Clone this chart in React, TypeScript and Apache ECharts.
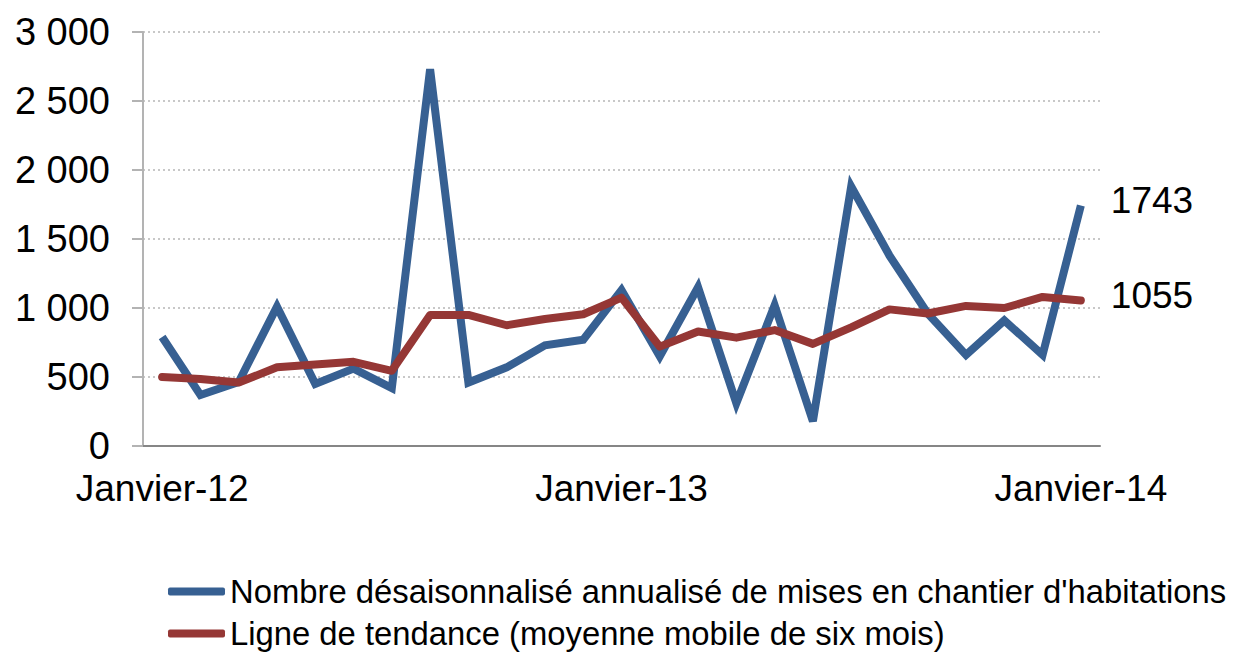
import React, { useEffect, useRef } from "react";
import * as echarts from "echarts";

const months = ["Janvier", "Février", "Mars", "Avril", "Mai", "Juin", "Juillet", "Août", "Septembre", "Octobre", "Novembre", "Décembre"];
const categories: string[] = [
  ...months.map((m) => `${m}-12`),
  ...months.map((m) => `${m}-13`),
  "Janvier-14",
];

const startsValues = [790, 370, 464, 1010, 450, 561, 420, 2730, 460, 570, 730, 770, 1130, 650, 1150, 310, 1020, 180, 1880, 1380, 960, 660, 910, 660, 1743];
const trendValues = [500, 485, 460, 570, 590, 610, 545, 950, 950, 875, 920, 955, 1075, 720, 830, 785, 840, 740, 860, 990, 960, 1015, 1000, 1080, 1055];

const seriesNames = [
  "Nombre désaisonnalisé annualisé de mises en chantier d'habitations",
  "Ligne de tendance (moyenne mobile de six mois)",
];
const seriesColors = ["#376092", "#953735"];

const FONT = "'Liberation Sans', Arial, sans-serif";

export default function App() {
  const ref = useRef<HTMLDivElement>(null);
  useEffect(() => {
    if (!ref.current) return;
    const chart = echarts.init(ref.current, undefined, { renderer: "svg" });
    const legendTops = [570, 612];
    const endLabel = {
      show: true,
      distance: 30,
      offset: [0, -5],
      fontSize: 37,
      color: "#000",
      fontFamily: FONT,
      formatter: (p: any) => String(p.value),
    };
    chart.setOption({
      animation: false,
      backgroundColor: "#fff",
      textStyle: { fontFamily: FONT },
      grid: { left: 143, right: 134, top: 32, bottom: 206 },
      legend: seriesNames.map((name, i) => ({
        orient: "vertical",
        left: 163,
        top: legendTops[i],
        itemWidth: 57,
        itemHeight: 8,
        itemGap: 5,
        icon: "roundRect",
        textStyle: { fontSize: 32.8, color: "#000", fontFamily: FONT },
        data: [name],
      })),
      xAxis: {
        type: "category",
        data: categories,
        boundaryGap: true,
        axisLine: { lineStyle: { color: "#868686", width: 2 } },
        axisTick: { show: false },
        axisLabel: { interval: 11, fontSize: 37, color: "#000", margin: 24, fontFamily: FONT },
      },
      yAxis: {
        type: "value",
        min: 0,
        max: 3000,
        interval: 500,
        axisLine: { show: true, lineStyle: { color: "#b3b3b3", width: 2 } },
        axisTick: { show: true, length: 11, lineStyle: { color: "#b3b3b3", width: 2 } },
        axisLabel: {
          fontSize: 38,
          color: "#000",
          margin: 33,
          fontFamily: FONT,
          formatter: (v: number) => String(v).replace(/\B(?=(\d{3})+(?!\d))/g, " "),
        },
        splitLine: { lineStyle: { color: "#c8c8c8", type: [2, 3], width: 2 } },
      },
      series: [
        {
          name: seriesNames[0],
          type: "line",
          data: startsValues,
          showSymbol: false,
          symbol: "none",
          color: seriesColors[0],
          lineStyle: { width: 8, color: seriesColors[0], join: "miter" },
          endLabel,
          z: 2,
        },
        {
          name: seriesNames[1],
          type: "line",
          data: trendValues,
          showSymbol: false,
          symbol: "none",
          color: seriesColors[1],
          lineStyle: { width: 8, color: seriesColors[1], cap: "round", join: "round" },
          endLabel,
          z: 3,
        },
      ],
    });
    return () => chart.dispose();
  }, []);
  return <div ref={ref} style={{ position: "absolute", left: 0, top: 0, width: 1234, height: 652 }} />;
}
